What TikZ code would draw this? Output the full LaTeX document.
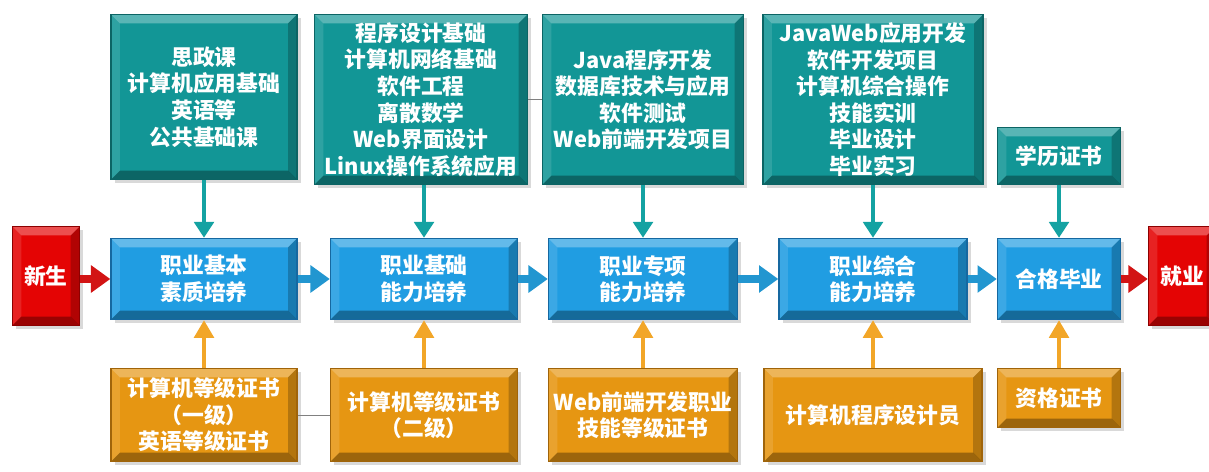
\documentclass[tikz,border=0pt]{standalone}
\usepackage{fontspec}
\setmainfont{Noto Sans CJK SC}
\usepackage{xcolor}
\usetikzlibrary{arrows.meta,positioning,shadows}
\definecolor{tealbox}{RGB}{18,150,150}
\definecolor{tealedge}{RGB}{12,100,100}
\definecolor{bluebox}{RGB}{32,157,226}
\definecolor{blueedge}{RGB}{22,104,160}
\definecolor{orangebox}{RGB}{230,150,18}
\definecolor{orangeedge}{RGB}{160,100,10}
\definecolor{redbox}{RGB}{228,4,4}
\definecolor{rededge}{RGB}{140,0,0}
\definecolor{tealarrow}{RGB}{20,162,162}
\definecolor{bluearrow}{RGB}{34,150,208}
\definecolor{orangearrow}{RGB}{242,166,40}
\definecolor{redarrow}{RGB}{210,20,20}

\begin{document}
\begin{tikzpicture}[x=0.02cm, y=-0.02cm,
    bevel/.style={path picture={
        \path (path picture bounding box.north west) coordinate (p1)
              (path picture bounding box.north east) coordinate (p2)
              (path picture bounding box.south east) coordinate (p3)
              (path picture bounding box.south west) coordinate (p4);
        \fill[white, opacity=.3] (p1) -- (p2) -- ([shift={(-5pt,-5pt)}]p2) -- ([shift={(5pt,-5pt)}]p1) -- cycle;
        \fill[white, opacity=.12] (p1) -- (p4) -- ([shift={(5pt,5pt)}]p4) -- ([shift={(5pt,-5pt)}]p1) -- cycle;
        \fill[black, opacity=.22] (p2) -- (p3) -- ([shift={(-5pt,5pt)}]p3) -- ([shift={(-5pt,-5pt)}]p2) -- cycle;
        \fill[black, opacity=.32] (p4) -- (p3) -- ([shift={(-5pt,5pt)}]p3) -- ([shift={(5pt,5pt)}]p4) -- cycle;}},
    box/.style={rectangle, inner sep=0pt, align=center, text=white, line width=0.8pt, bevel,
        font=\bfseries\fontsize{12.4}{15.1}\selectfont,
        drop shadow={shadow xshift=2pt, shadow yshift=-2pt, opacity=.3}},
    course/.style={box, fill=tealbox, draw=tealedge},
    stage/.style={box, fill=bluebox, draw=blueedge},
    cert/.style={box, fill=orangebox, draw=orangeedge},
    endpoint/.style={box, fill=redbox, draw=rededge},
    feed/.style={draw=tealarrow, line width=2.3pt, -{Triangle[width=11pt, length=9pt]}},
    gain/.style={draw=orangearrow, line width=2.3pt, -{Triangle[width=11pt, length=10pt]}},
    flow/.style={draw=bluearrow, line width=4pt, -{Triangle[width=15pt, length=11pt]}},
    exit/.style={draw=redarrow, line width=4pt, -{Triangle[width=15pt, length=11pt]}}]
                        \useasboundingbox (0, 0) rectangle (1209, 472);

                        % courses
                        \node[course, minimum width=3.72cm, minimum height=3.3cm] (t1) at (204, 97) {思政课\\计算机应用基础\\英语等\\公共基础课};
                        \node[course, minimum width=4.26cm, minimum height=3.4cm] (t2) at (421, 99.5) {程序设计基础\\计算机网络基础\\软件工程\\离散数学\\Web界面设计\\Linux操作系统应用};
                        \node[course, minimum width=4.02cm, minimum height=3.4cm] (t3) at (643, 99.5) {Java程序开发\\数据库技术与应用\\软件测试\\Web前端开发项目};
                        \node[course, minimum width=4.4cm, minimum height=3.4cm] (t4) at (873, 99.5) {JavaWeb应用开发\\软件开发项目\\计算机综合操作\\技能实训\\毕业设计\\毕业实习};
                        \node[course, minimum width=2.46cm, minimum height=1.14cm] (xl) at (1059, 156) {学历证书};

                        % stages
                        \node[endpoint, minimum width=1.34cm, minimum height=1.98cm] (xs) at (46, 276) {新生};
                        \node[stage, minimum width=3.72cm, minimum height=1.62cm] (b1) at (204, 279) {职业基本\\素质培养};
                        \node[stage, minimum width=3.74cm, minimum height=1.62cm] (b2) at (424, 279) {职业基础\\能力培养};
                        \node[stage, minimum width=3.78cm, minimum height=1.62cm] (b3) at (643, 279) {职业专项\\能力培养};
                        \node[stage, minimum width=3.76cm, minimum height=1.62cm] (b4) at (873, 279) {职业综合\\能力培养};
                        \node[stage, minimum width=2.46cm, minimum height=1.62cm] (b5) at (1059, 279) {合格毕业};
                        \node[endpoint, minimum width=1.34cm, minimum height=1.98cm] (jy) at (1182, 276) {就业};

                        % certificates
                        \node[cert, minimum width=3.72cm, minimum height=1.86cm] (o1) at (204, 415) {计算机等级证书\\（一级）\\英语等级证书};
                        \node[cert, minimum width=3.74cm, minimum height=1.86cm] (o2) at (424, 415) {计算机等级证书\\（二级）};
                        \node[cert, minimum width=3.78cm, minimum height=1.86cm] (o3) at (643, 415) {Web前端开发职业\\技能等级证书};
                        \node[cert, minimum width=4.36cm, minimum height=1.86cm] (o4) at (873, 415) {计算机程序设计员};
                        \node[cert, minimum width=2.46cm, minimum height=1.18cm] (o5) at (1059, 398) {资格证书};

                        \draw[gray, thin]
                        (t2.east) -- (t3.west)
                        (o1.east) -- (o2.west);

                        \draw
                        (t1.south) edge[feed] (b1.north)
                        (t2.south -| b2.north) edge[feed] (b2.north)
                        (t3.south) edge[feed] (b3.north)
                        (t4.south) edge[feed] (b4.north)
                        (xl.south) edge[feed] (b5.north)
                        (o1.north) edge[gain] (b1.south)
                        (o2.north) edge[gain] (b2.south)
                        (o3.north) edge[gain] (b3.south)
                        (o4.north) edge[gain] (b4.south)
                        (o5.north) edge[gain] (b5.south)
                        (b1.east) edge[flow] (b2.west)
                        (b2.east) edge[flow] (b3.west)
                        (b3.east) edge[flow] (b4.west)
                        (b4.east) edge[flow] (b5.west)
                        (xs.east |- b1.west) edge[exit] (b1.west)
                        (b5.east) edge[exit] (jy.west |- b5.east);
                    \end{tikzpicture}
\end{document}
